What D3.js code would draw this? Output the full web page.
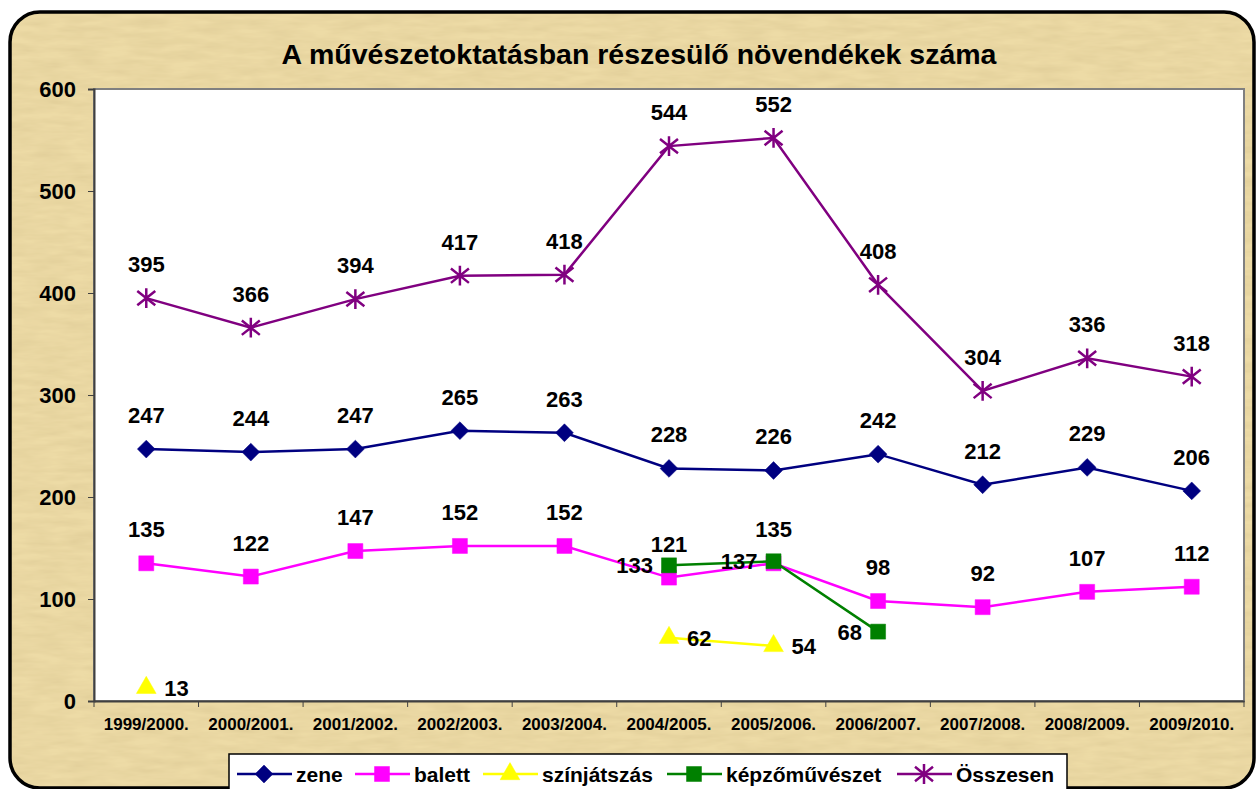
<!DOCTYPE html>
<html>
<head>
  <meta charset="utf-8">
  <title>A művészetoktatásban részesülő növendékek száma</title>
  <script src="https://d3js.org/d3.v7.min.js"></script>
  <style>
    body { margin: 0; background: #fff; }
    text { font-family: "Liberation Sans", Arial, sans-serif; font-weight: bold; }
  </style>
</head>
<body>
  <script>
    // School years on the x axis
    var years = ["1999/2000.", "2000/2001.", "2001/2002.", "2002/2003.", "2003/2004.",
                 "2004/2005.", "2005/2006.", "2006/2007.", "2007/2008.", "2008/2009.", "2009/2010."];

    // Series values (null = no data)
    var zene = [247, 244, 247, 265, 263, 228, 226, 242, 212, 229, 206];
    var balett = [135, 122, 147, 152, 152, 121, 135, 98, 92, 107, 112];
    var szinjatszas = [13, null, null, null, null, 62, 54, null, null, null, null];
    var kepzo = [null, null, null, null, null, 133, 137, 68, null, null, null];
    var osszesen = [395, 366, 394, 417, 418, 544, 552, 408, 304, 336, 318];

    var yTicks = [0, 100, 200, 300, 400, 500, 600];

    var series = [
      { name: "zene", values: zene, color: "#000080", marker: "diamond", label: "above" },
      { name: "balett", values: balett, color: "#FF00FF", marker: "square", label: "above" },
      { name: "színjátszás", values: szinjatszas, color: "#FFFF00", marker: "triangle", label: "right" },
      { name: "képzőművészet", values: kepzo, color: "#008000", marker: "square", label: "left" },
      { name: "Összesen", values: osszesen, color: "#800080", marker: "star", label: "above" }
    ];

    var W = 1256, H = 789;
    var svg = d3.select("body").append("svg").attr("width", W).attr("height", H);

    // papyrus-like background
    var defs = svg.append("defs");
    var f = defs.append("filter").attr("id", "papyrus").attr("x", 0).attr("y", 0).attr("width", 1).attr("height", 1);
    f.append("feTurbulence").attr("type", "fractalNoise").attr("baseFrequency", "0.03 0.15")
      .attr("numOctaves", 3).attr("seed", 4).attr("result", "noise");
    f.append("feColorMatrix").attr("in", "noise").attr("type", "matrix")
      .attr("values", "0 0 0 0 0.6  0 0 0 0 0.47  0 0 0 0 0.22  0.5 0 0 0 -0.12").attr("result", "tint");
    f.append("feComposite").attr("in", "tint").attr("in2", "SourceGraphic").attr("operator", "atop");

    var frame = { x: 10, y: 12, w: 1244, h: 776, r: 30 };
    svg.append("rect").attr("x", frame.x).attr("y", frame.y).attr("width", frame.w).attr("height", frame.h)
      .attr("rx", frame.r).attr("fill", "#EDDBA6").attr("filter", "url(#papyrus)");
    svg.append("rect").attr("x", frame.x).attr("y", frame.y).attr("width", frame.w).attr("height", frame.h)
      .attr("rx", frame.r).attr("fill", "none").attr("stroke", "#000").attr("stroke-width", 3.5);

    var plot = { left: 94, top: 89, right: 1244, bottom: 701 };

    var x = d3.scaleBand().domain(years).range([plot.left, plot.right]);
    var y = d3.scaleLinear().domain([0, 600]).range([plot.bottom, plot.top]);
    var cx = function (i) { return x(years[i]) + x.bandwidth() / 2; };

    // plot area
    svg.append("rect").attr("x", plot.left).attr("y", plot.top)
      .attr("width", plot.right - plot.left).attr("height", plot.bottom - plot.top)
      .attr("fill", "#fff").attr("stroke", "#808080").attr("stroke-width", 2);

    // title
    svg.append("text").attr("x", 639).attr("y", 64).attr("text-anchor", "middle")
      .style("font-size", "28.5px").text("A művészetoktatásban részesülő növendékek száma");

    // y axis
    var yAxis = svg.append("g").attr("transform", "translate(" + plot.left + ",0)")
      .call(d3.axisLeft(y).tickValues(yTicks).tickSize(6).tickPadding(12));
    yAxis.select(".domain").attr("stroke", "#404040").attr("stroke-width", 2);
    yAxis.selectAll(".tick line").attr("stroke", "#404040");
    yAxis.selectAll("text").style("font-size", "22px").attr("fill", "#000").attr("dy", "0.36em");

    // x axis (ticks between categories)
    var xAxis = svg.append("g").attr("transform", "translate(0," + plot.bottom + ")")
      .call(d3.axisBottom(x).tickSize(0).tickPadding(17));
    xAxis.select(".domain").attr("stroke", "#404040").attr("stroke-width", 2);
    xAxis.selectAll("text").style("font-size", "17px").attr("fill", "#000");
    xAxis.selectAll(".bound").data(d3.range(years.length + 1)).enter().append("line")
      .attr("x1", function (i) { return i < years.length ? x(years[i]) : plot.right; })
      .attr("x2", function (i) { return i < years.length ? x(years[i]) : plot.right; })
      .attr("y1", 0).attr("y2", 6).attr("stroke", "#404040");

    function markerPath(type, s) {
      if (type === "diamond") return d3.symbol(d3.symbolDiamond2, s * s * 0.9)();
      if (type === "square") return d3.symbol(d3.symbolSquare, s * s)();
      if (type === "triangle") return d3.symbol(d3.symbolTriangle, s * s * 0.75)();
      var r = s / 2, p = "";
      p += "M" + (-r) + "," + (-r * 0.8) + "L" + r + "," + (r * 0.8);
      p += "M" + (-r) + "," + (r * 0.8) + "L" + r + "," + (-r * 0.8);
      p += "M0," + (-r * 1.1) + "L0," + (r * 1.1);
      return p;
    }

    function drawMarker(sel, s) {
      sel.attr("d", markerPath(s.marker, s.marker === "star" ? 18 : 15))
        .attr("fill", s.marker === "star" ? "none" : s.color)
        .attr("stroke", s.color).attr("stroke-width", s.marker === "star" ? 2.5 : 0.5);
    }

    var line = d3.line()
      .defined(function (d) { return d != null; })
      .x(function (d, i) { return cx(i); })
      .y(function (d) { return y(d); });

    series.forEach(function (s) {
      var g = svg.append("g");
      // only connect consecutive points
      g.append("path").datum(s.values).attr("d", line)
        .attr("fill", "none").attr("stroke", s.color).attr("stroke-width", 2.5);
      var pts = s.values.map(function (v, i) { return { v: v, i: i }; })
        .filter(function (d) { return d.v != null; });
      g.selectAll(".m").data(pts).enter().append("path")
        .attr("transform", function (d) { return "translate(" + cx(d.i) + "," + y(d.v) + ")"; })
        .call(drawMarker, s);
      g.selectAll(".l").data(pts).enter().append("text")
        .attr("x", function (d) {
          if (s.label === "right") return cx(d.i) + 18;
          if (s.label === "left") return cx(d.i) - 16;
          return cx(d.i);
        })
        .attr("y", function (d) { return s.label === "above" ? y(d.v) - 26 : y(d.v) + 8; })
        .attr("text-anchor", s.label === "right" ? "start" : s.label === "left" ? "end" : "middle")
        .style("font-size", "22px").text(function (d) { return d.v; });
    });

    // legend
    var lg = svg.append("g");
    lg.append("rect").attr("x", 229).attr("y", 754).attr("width", 838).attr("height", 44)
      .attr("fill", "#fff").attr("stroke", "#000").attr("stroke-width", 1.5);
    var lx = [237, 355, 483, 667, 897];
    series.forEach(function (s, i) {
      var gy = 774;
      lg.append("line").attr("x1", lx[i]).attr("x2", lx[i] + 55).attr("y1", gy).attr("y2", gy)
        .attr("stroke", s.color).attr("stroke-width", 2.5);
      lg.append("path").attr("transform", "translate(" + (lx[i] + 27) + "," + gy + ")")
        .call(drawMarker, s);
      lg.append("text").attr("x", lx[i] + 59).attr("y", gy + 8).style("font-size", "21px").text(s.name);
    });
  </script>
</body>
</html>
